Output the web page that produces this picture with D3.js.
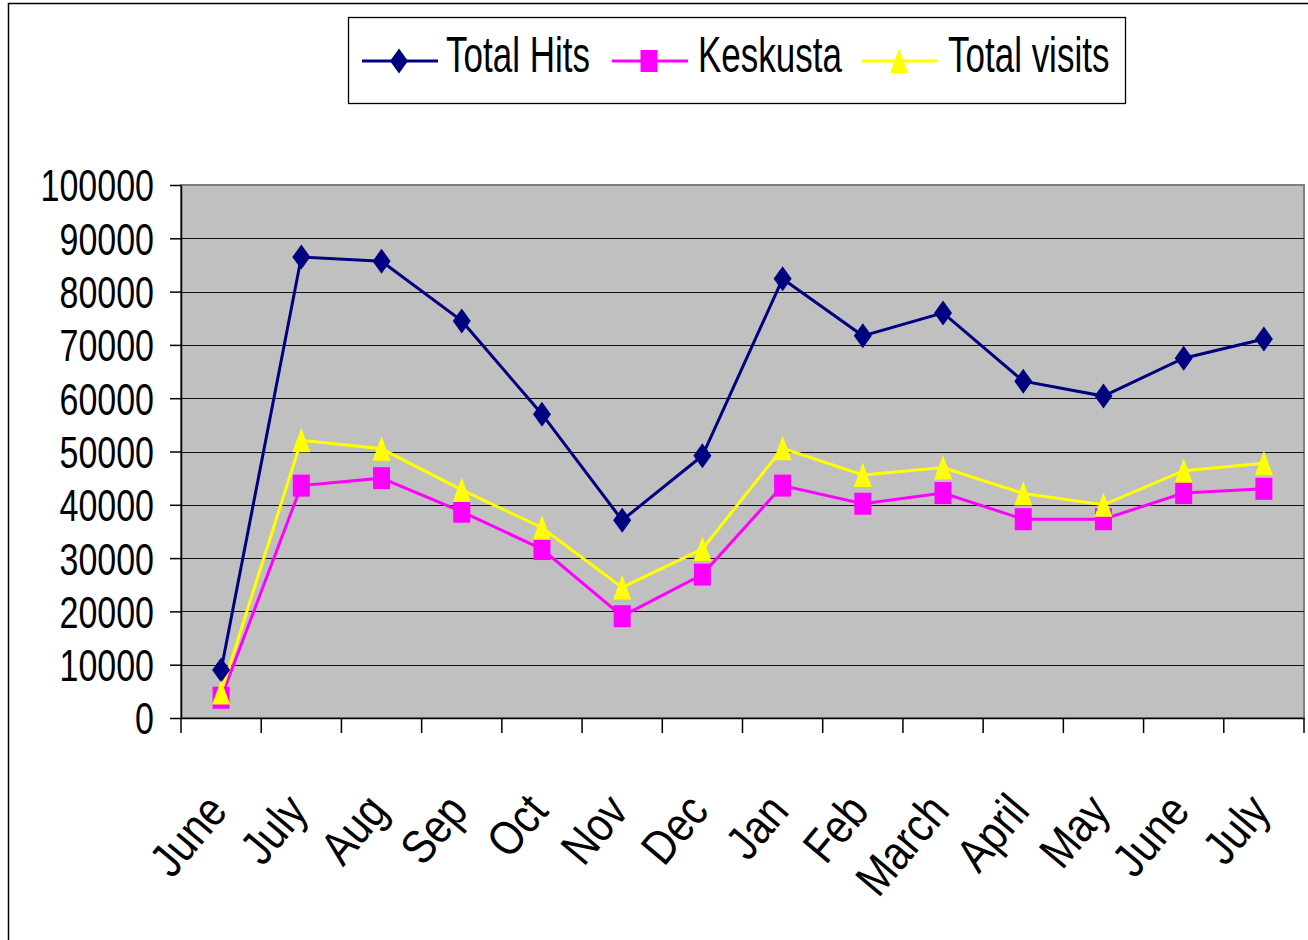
<!DOCTYPE html>
<html>
<head>
<meta charset="utf-8">
<script src="https://cdn.jsdelivr.net/npm/d3@7"></script>
<style>
  body { margin: 0; background: #fff; }
  text { font-family: "Liberation Sans", Arial, sans-serif; fill: #000; }
</style>
</head>
<body>
<svg width="1308" height="940"></svg>
<script>
// chart data
const months = ["June", "July", "Aug", "Sep", "Oct", "Nov", "Dec", "Jan", "Feb", "March", "April", "May", "June ", "July "];
const monthLabels = ["June", "July", "Aug", "Sep", "Oct", "Nov", "Dec", "Jan", "Feb", "March", "April", "May", "June", "July"];
const totalHits = [9000, 86500, 85700, 74500, 57000, 37100, 49200, 82400, 71700, 76000, 63200, 60400, 67500, 71100];
const keskusta = [3800, 43600, 45000, 38700, 31700, 19100, 26900, 43600, 40200, 42200, 37300, 37300, 42200, 43000];
const totalVisits = [4800, 52100, 50500, 42800, 35700, 24500, 31700, 50600, 45600, 47000, 42100, 40000, 46400, 47800];
const yTicks = [0, 10000, 20000, 30000, 40000, 50000, 60000, 70000, 80000, 90000, 100000];
const seriesNames = ["Total Hits", "Keskusta", "Total visits"];

// marker shapes (Excel style, a bit taller than wide)
const diamond = { draw(c) { c.moveTo(0, -12.5); c.lineTo(9, 0); c.lineTo(0, 12.5); c.lineTo(-9, 0); c.closePath(); } };
const square = { draw(c) { c.rect(-8.5, -11, 17, 22); } };
const triangle = { draw(c) { c.moveTo(0, -12.5); c.lineTo(9, 12); c.lineTo(-9, 12); c.closePath(); } };

window.onload = () => {
  const svg = d3.select("svg");

  // outer chart frame (only left/top edges visible)
  svg.append("rect")
    .attr("x", 8.5).attr("y", 3.5)
    .attr("width", 1500).attr("height", 1100)
    .attr("fill", "none").attr("stroke", "#000").attr("stroke-width", 1.5);

  const left = 181, right = 1304, top = 185, bottom = 718;

  const xScale = d3.scaleBand().domain(months).range([left, right]);
  const cx = d => xScale(d) + xScale.bandwidth() / 2;
  const yScale = d3.scaleLinear().domain([0, 100000]).range([bottom, top]);

  // plot area
  svg.append("rect")
    .attr("x", left).attr("y", top)
    .attr("width", right - left).attr("height", bottom - top)
    .attr("fill", "#c0c0c0").attr("stroke", "#808080").attr("stroke-width", 2);

  // gridlines
  svg.append("g").selectAll("line")
    .data(yTicks.filter(t => t > 0 && t < 100000))
    .join("line")
    .attr("x1", left).attr("x2", right)
    .attr("y1", d => Math.round(yScale(d)) + 0.5)
    .attr("y2", d => Math.round(yScale(d)) + 0.5)
    .attr("stroke", "#111").attr("stroke-width", 1.2);

  // y axis
  const yAxis = d3.axisLeft(yScale).tickValues(yTicks).tickFormat(d3.format("d"))
    .tickSize(11).tickPadding(29).tickSizeOuter(0);
  const yAxisG = svg.append("g").attr("transform", `translate(${left},0)`).call(yAxis);
  yAxisG.select(".domain").attr("stroke", "#000").attr("stroke-width", 1.5);
  yAxisG.selectAll(".tick line").attr("stroke", "#000").attr("stroke-width", 1.5);
  yAxisG.selectAll(".tick text")
    .attr("x", -27).attr("dy", "0.36em")
    .attr("transform", "scale(1,1.3)")
    .style("font-size", "34px")
    .style("font-family", "'Liberation Sans', Arial, sans-serif")
    .attr("fill", "#000");

  // x axis line and tick marks at category boundaries
  const xAxis = d3.axisBottom(xScale).tickSize(0).tickFormat("");
  const xAxisG = svg.append("g").attr("transform", `translate(0,${bottom})`).call(xAxis);
  xAxisG.select(".domain").attr("stroke", "#000").attr("stroke-width", 1.5);
  const bounds = months.map(m => xScale(m)).concat([right]);
  xAxisG.selectAll("line.bound")
    .data(bounds)
    .join("line")
    .attr("class", "bound")
    .attr("x1", d => d).attr("x2", d => d)
    .attr("y1", 0).attr("y2", 15)
    .attr("stroke", "#000").attr("stroke-width", 1.5);

  // rotated month labels
  svg.append("g").selectAll("text")
    .data(months)
    .join("text")
    .attr("transform", d => `translate(${cx(d) + 8},812) rotate(-50) scale(0.85,1)`)
    .attr("text-anchor", "end")
    .style("font-size", "48px")
    .text((d, i) => monthLabels[i]);

  // series
  const series = [
    { name: seriesNames[0], values: totalHits, color: "#000080", shape: diamond },
    { name: seriesNames[1], values: keskusta, color: "#ff00ff", shape: square },
    { name: seriesNames[2], values: totalVisits, color: "#ffff00", shape: triangle }
  ];

  const line = d3.line()
    .x((d, i) => cx(months[i]))
    .y(d => yScale(d));

  series.forEach(s => {
    svg.append("path")
      .datum(s.values)
      .attr("d", line)
      .attr("fill", "none")
      .attr("stroke", s.color)
      .attr("stroke-width", 3);
  });

  series.forEach(s => {
    svg.append("g").selectAll("path")
      .data(s.values)
      .join("path")
      .attr("d", d3.symbol().type(s.shape))
      .attr("transform", (d, i) => `translate(${cx(months[i])},${yScale(d)})`)
      .attr("fill", s.color);
  });

  // legend
  const legend = svg.append("g");
  legend.append("rect")
    .attr("x", 348.5).attr("y", 17.5)
    .attr("width", 777).attr("height", 86)
    .attr("fill", "#fff").attr("stroke", "#000").attr("stroke-width", 1.3);

  const legendX = [362, 612, 862];
  const legendTextX = [446, 698, 948];
  series.forEach((s, i) => {
    const g = legend.append("g");
    g.append("line")
      .attr("x1", legendX[i]).attr("x2", legendX[i] + 76)
      .attr("y1", 61).attr("y2", 61)
      .attr("stroke", s.color).attr("stroke-width", 3);
    g.append("path")
      .attr("d", d3.symbol().type(s.shape))
      .attr("transform", `translate(${legendX[i] + 37},61)`)
      .attr("fill", s.color);
    g.append("text")
      .attr("transform", `translate(${legendTextX[i]},72) scale(1,1.43)`)
      .style("font-size", "35px")
      .text(s.name);
  });
};
</script>
</body>
</html>
